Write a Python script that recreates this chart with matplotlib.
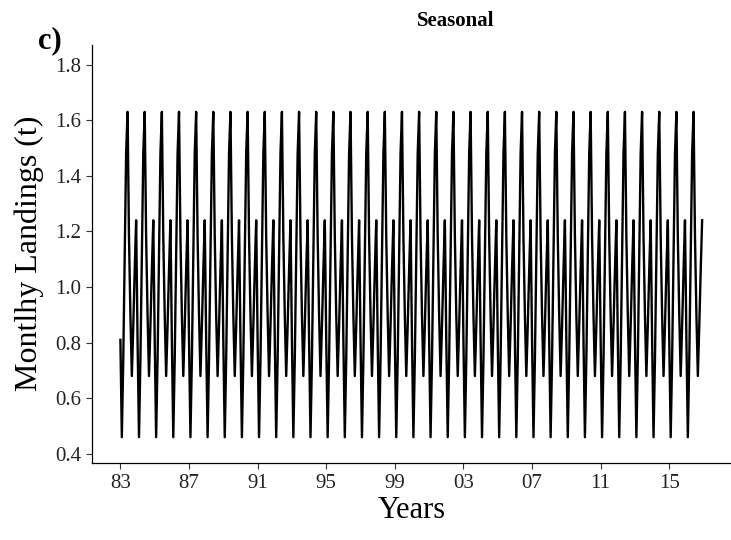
import numpy as np
import matplotlib.pyplot as plt

# monthly seasonal index (Jan..Dec), repeated every year
months = ["Jan", "Feb", "Mar", "Apr", "May", "Jun",
          "Jul", "Aug", "Sep", "Oct", "Nov", "Dec"]
seasonal_index = [0.81, 0.46, 0.74, 1.12, 1.48, 1.63,
                  1.18, 0.90, 0.68, 0.86, 1.06, 1.24]
start_year = 1983
end_year = 2016

year_ticks = list(range(1983, 2016, 4))
year_labels = ["83", "87", "91", "95", "99", "03", "07", "11", "15"]
y_ticks = [0.4, 0.6, 0.8, 1.0, 1.2, 1.4, 1.6, 1.8]

n_years = end_year - start_year + 1
t = start_year + np.arange(n_years * 12) / 12.0
values = np.tile(seasonal_index, n_years)

plt.rcParams['font.family'] = ['Liberation Serif', 'DejaVu Serif']

fig = plt.figure(figsize=(7.31, 5.40), dpi=100)
ax = fig.add_axes([0.126, 0.143, 0.874, 0.774])

ax.plot(t, values, color="black", lw=1.7)

ax.set_xlim(1981.35, 2018.6)
ax.set_ylim(0.368, 1.871)
ax.set_xticks(year_ticks)
ax.set_xticklabels(year_labels)
ax.set_yticks(y_ticks)
ax.set_yticklabels(["%.1f" % v for v in y_ticks])

ax.spines["top"].set_visible(False)
ax.spines["right"].set_visible(False)
ax.spines["left"].set_linewidth(0.9)
ax.spines["bottom"].set_linewidth(0.9)
ax.tick_params(axis="both", length=4, width=0.8, color="#333333",
               labelsize=15, labelcolor="#222222", pad=4)

ax.set_xlabel("Years", fontsize=22, labelpad=2)
ax.set_ylabel("Montlhy Landings (t)", fontsize=23, labelpad=8)

fig.text(0.623, 0.962, "Seasonal", ha="center", va="center",
         fontsize=15, fontweight="bold")
fig.text(0.052, 0.925, "c)", ha="left", va="center",
         fontsize=22, fontweight="bold")

fig.savefig("out.png", dpi=100)
